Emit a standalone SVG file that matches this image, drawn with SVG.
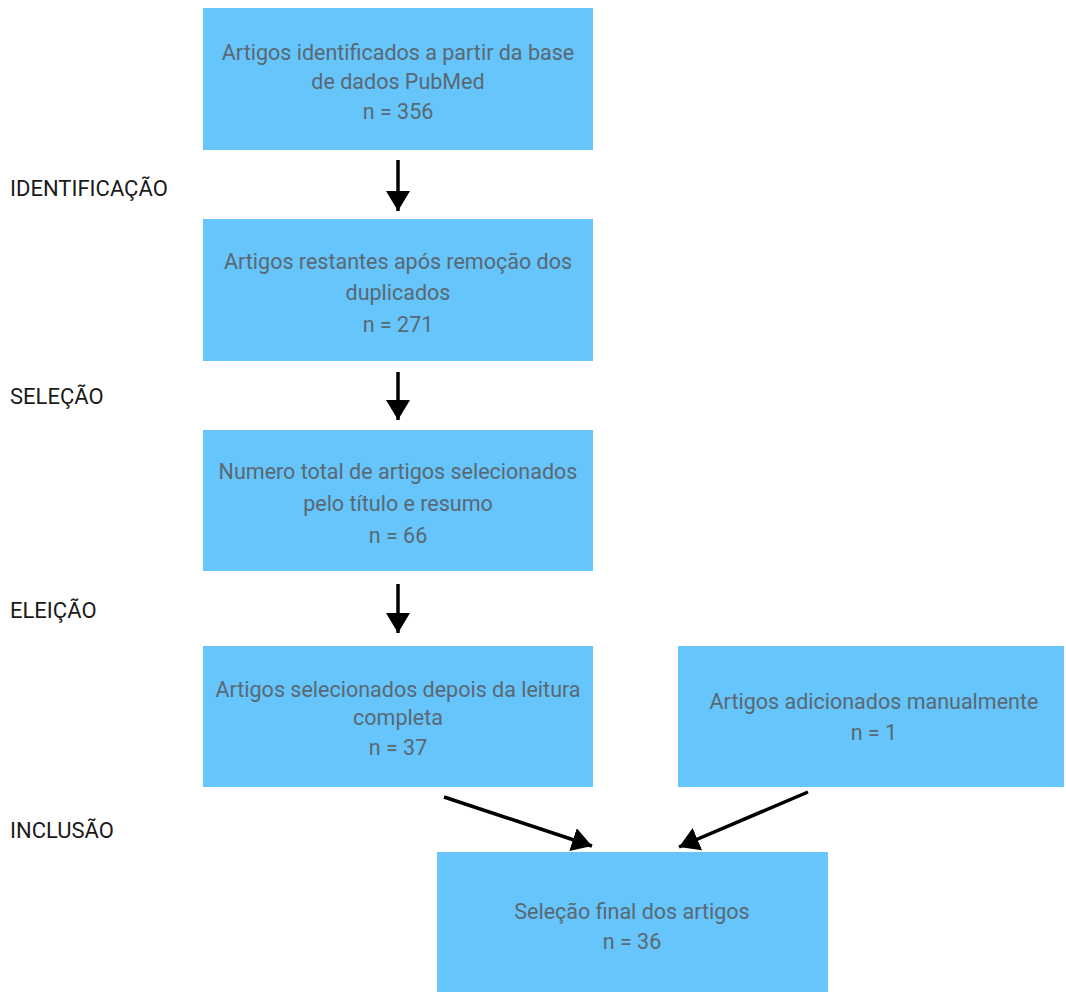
<svg xmlns="http://www.w3.org/2000/svg" width="1066" height="992" viewBox="0 0 1066 992">
<style>
.box{fill:#66C5FA}
.t{font-family:Roboto,"Liberation Sans",sans-serif;font-size:21.5px;fill:#5A6874;text-anchor:middle}
.lbl{font-family:Roboto,"Liberation Sans",sans-serif;font-size:22px;fill:#1a1a1a}
.c{stroke:#000;stroke-width:3.5;fill:none}
</style>
<defs>
<marker id="ah" markerUnits="userSpaceOnUse" markerWidth="26" markerHeight="26" viewBox="0 0 26 26" refX="20" refY="13" orient="auto">
<path d="M0,1 L20,13 L0,25 Z" fill="#000"/>
</marker>
</defs>
<rect width="1066" height="992" fill="#fff"/>
<g id="labels">
<text class="lbl" x="10" y="196">IDENTIFICAÇÃO</text>
<text class="lbl" x="10" y="404">SELEÇÃO</text>
<text class="lbl" x="10" y="618">ELEIÇÃO</text>
<text class="lbl" x="10" y="838">INCLUSÃO</text>
</g>
<g id="n1"><rect class="box" x="203" y="8" width="390" height="142"/>
<text class="t" x="398" y="60">Artigos identificados a partir da base</text>
<text class="t" x="398" y="89">de dados PubMed</text>
<text class="t" x="398" y="119">n = 356</text></g>
<g id="n2"><rect class="box" x="203" y="219" width="390" height="142"/>
<text class="t" x="398" y="269">Artigos restantes após remoção dos</text>
<text class="t" x="398" y="300">duplicados</text>
<text class="t" x="398" y="332">n = 271</text></g>
<g id="n3"><rect class="box" x="203" y="430" width="390" height="141"/>
<text class="t" x="398" y="479">Numero total de artigos selecionados</text>
<text class="t" x="398" y="511">pelo título e resumo</text>
<text class="t" x="398" y="543">n = 66</text></g>
<g id="n4"><rect class="box" x="203" y="646" width="390" height="141"/>
<text class="t" x="398" y="697">Artigos selecionados depois da leitura</text>
<text class="t" x="398" y="725">completa</text>
<text class="t" x="398" y="755">n = 37</text></g>
<g id="n5"><rect class="box" x="678" y="646" width="386" height="141"/>
<text class="t" x="874" y="709">Artigos adicionados manualmente</text>
<text class="t" x="874" y="740">n = 1</text></g>
<g id="n6"><rect class="box" x="437" y="852" width="391" height="140"/>
<text class="t" x="632" y="919">Seleção final dos artigos</text>
<text class="t" x="632" y="949">n = 36</text></g>
<g id="connectors">
<line class="c" x1="398" y1="160" x2="398" y2="211" marker-end="url(#ah)"/>
<line class="c" x1="398" y1="372" x2="398" y2="420" marker-end="url(#ah)"/>
<line class="c" x1="398" y1="584" x2="398" y2="633" marker-end="url(#ah)"/>
<line class="c" x1="444" y1="797" x2="592" y2="846" marker-end="url(#ah)"/>
<line class="c" x1="808" y1="792" x2="679" y2="847" marker-end="url(#ah)"/>
</g>
</svg>
